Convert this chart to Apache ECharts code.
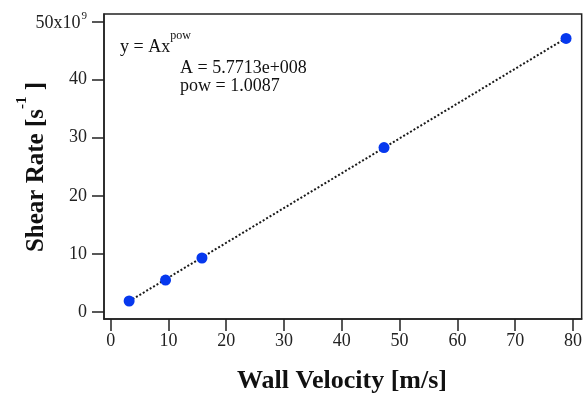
<!DOCTYPE html>
<html><head><meta charset="utf-8">
<script src="https://cdn.jsdelivr.net/npm/echarts@6/dist/echarts.min.js"></script>
<style>html,body{margin:0;padding:0;background:#fff}#c{width:585px;height:394px}</style>
</head><body><div id="c"></div>
<script>
// Data (shear rate in units of 1e9 s^-1)
const wallVelocity = [3.2, 9.5, 15.8, 47.3, 78.8];
const shearRate = [1.9, 5.5, 9.3, 28.3, 47.1];
const fitX = [3.2, 78.8];
const fitY = [1.85, 47.15];
const xTicks = [0, 10, 20, 30, 40, 50, 60, 70, 80];
const yTicks = [0, 10, 20, 30, 40, 50];
const xTitle = 'Wall Velocity [m/s]';
const fitLines = ['A = 5.7713e+008', 'pow = 1.0087'];

const FONT = '"Liberation Serif", "Times New Roman", serif';
const chart = echarts.init(document.getElementById('c'), null, {renderer: 'canvas'});
chart.setOption({
  animation: false,
  grid: {left: 104, top: 14, right: 2, bottom: 75, show: true, borderColor: '#222', borderWidth: 1.5, backgroundColor: 'transparent'},
  xAxis: {
    type: 'value', min: -1.15, max: 81.5,
    splitLine: {show: false}, axisLine: {show: true, onZero: false, lineStyle: {color: '#222', width: 1.5}},
    axisTick: {show: true, inside: false, length: 12, lineStyle: {color: '#222', width: 1.5}, customValues: xTicks},
    axisLabel: {customValues: xTicks, color: '#222', fontFamily: FONT, fontSize: 18, margin: 13}
  },
  yAxis: {
    type: 'value', min: -1.2, max: 51.3,
    splitLine: {show: false}, axisLine: {show: true, onZero: false, lineStyle: {color: '#222', width: 1.5}},
    axisTick: {show: true, inside: false, length: 12, lineStyle: {color: '#222', width: 1.5}, customValues: yTicks},
    axisLabel: {
      customValues: yTicks, color: '#222', fontFamily: FONT, fontSize: 18, margin: 17,
      formatter: v => v === 50 ? '{a|50x10}{s|9}' : String(v),
      rich: {a: {fontFamily: FONT, fontSize: 18, color: '#222', lineHeight: 22, verticalAlign: 'bottom'},
             s: {fontFamily: FONT, fontSize: 11, color: '#222', lineHeight: 22, verticalAlign: 'top', padding: [0,0,12,1]}}
    }
  },
  series: [
    {type: 'line', data: fitX.map((x, i) => [x, fitY[i]]), symbol: 'none', z: 2,
     lineStyle: {color: '#1a1a1a', width: 2, type: [2, 2]}},
    {type: 'scatter', data: wallVelocity.map((x, i) => [x, shearRate[i]]), symbol: 'circle', symbolSize: 11, z: 3,
     itemStyle: {color: '#0638ee', opacity: 1}}
  ],
  graphic: [
    {type: 'text', x: 342, y: 381, style: {text: xTitle, fontFamily: FONT, fontSize: 26, fontWeight: 'bold', fill: '#111', align: 'center', verticalAlign: 'middle'}},
    {type: 'text', x: 32, y: 167, rotation: Math.PI / 2,
     style: {text: '{m|Shear Rate [s}{s|-1}{m| ]}', align: 'center', verticalAlign: 'middle',
       rich: {m: {fontFamily: FONT, fontSize: 25, fontWeight: 'bold', fill: '#111', lineHeight: 34, verticalAlign: 'bottom'},
              s: {fontFamily: FONT, fontSize: 15, fontWeight: 'bold', fill: '#111', lineHeight: 34, verticalAlign: 'top', padding: [0,0,16,0]}}}},
    {type: 'text', x: 120, y: 30,
     style: {text: '{m|y = Ax}{s|pow}', align: 'left', verticalAlign: 'top',
       rich: {m: {fontFamily: FONT, fontSize: 18, fill: '#111', lineHeight: 26, verticalAlign: 'bottom'},
              s: {fontFamily: FONT, fontSize: 12, fill: '#111', lineHeight: 26, verticalAlign: 'top', padding: [0,0,10,0]}}}},
    {type: 'text', x: 180, y: 59, style: {text: fitLines[0], fontFamily: FONT, fontSize: 18, fill: '#111', align: 'left', verticalAlign: 'top'}},
    {type: 'text', x: 180, y: 77, style: {text: fitLines[1], fontFamily: FONT, fontSize: 18, fill: '#111', align: 'left', verticalAlign: 'top'}}
  ]
});
</script>
</body></html>
